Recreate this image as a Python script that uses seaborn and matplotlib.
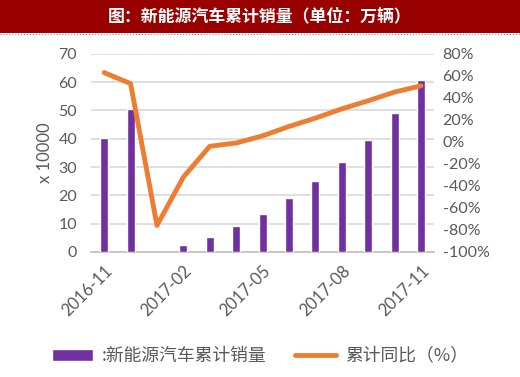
import numpy as np
import pandas as pd
import seaborn as sns
import matplotlib.pyplot as plt
from matplotlib.patches import Rectangle
from matplotlib.lines import Line2D

# data
months = ["2016-11", "2016-12", "2017-01", "2017-02", "2017-03", "2017-04", "2017-05",
          "2017-06", "2017-07", "2017-08", "2017-09", "2017-10", "2017-11"]
sales = [40.2, 50.6, np.nan, 2.4, 5.1, 9.1, 13.4, 19.0, 25.1, 31.8, 39.6, 49.2, 60.6]
growth = [63, 53, -76, -32, -4, -1, 5.5, 14, 21.6, 30, 37.4, 45.3, 51]

bar_label = ":新能源汽车累计销量"
line_label = "累计同比（%）"
title = "图：新能源汽车累计销量（单位：万辆）"

bar_color = "#7030A0"
line_color = "#ED7D31"
text_color = "#595959"

sns.set_theme(style="white")
plt.rcParams['font.family'] = ['Lato', 'Noto Sans CJK SC', 'DejaVu Sans']

df = pd.DataFrame({"month": months, "sales": sales, "growth": growth})

fig = plt.figure(figsize=(5.2, 3.77), dpi=100)
ax = fig.add_axes([0.175, 0.332, 0.66, 0.525])

# title bar
fig.patches.append(Rectangle((0, 0.912), 1, 0.088, transform=fig.transFigure,
                             facecolor="#990000", edgecolor="none", zorder=0))
fig.add_artist(Line2D([0, 1], [0.910, 0.910], transform=fig.transFigure,
                      color="#8888bb", lw=0.8, ls=":"))
fig.text(0.5, 0.956, title, color="white", fontsize=12.2, fontweight="bold",
         ha="center", va="center", family=['Noto Sans CJK SC', 'DejaVu Sans'])

# bars
sns.barplot(data=df, x="month", y="sales", color=bar_color, width=0.3,
            saturation=1, ax=ax, zorder=3)
ax.set_ylim(0, 70)
ax.set_yticks(range(0, 71, 10))
ax.yaxis.grid(True, color="#D9D9D9", lw=1.2, zorder=0)
ax.set_axisbelow(True)
ax.set_xlim(-0.5, 12.5)
ax.set_xlabel("")
ax.set_ylabel("x 10000", color=text_color, fontsize=12, labelpad=4)

ax.set_xticks([0, 3, 6, 9, 12])
ax.set_xticklabels([months[i] for i in [0, 3, 6, 9, 12]], rotation=45, ha="right",
                   rotation_mode="anchor")
ax.set_xticks([-0.5, 2.5, 5.5, 8.5, 11.5], minor=True)
ax.tick_params(axis="x", which="major", length=0, pad=8, labelsize=12, labelcolor=text_color)
ax.tick_params(axis="x", which="minor", length=5, color="#BFBFBF", width=1, direction="out")
ax.tick_params(axis="y", length=0, labelsize=11.5, labelcolor=text_color, pad=10)
for s in ["top", "right", "left"]:
    ax.spines[s].set_visible(False)
ax.spines["bottom"].set_color("#BFBFBF")
ax.spines["bottom"].set_linewidth(1.2)

# line on secondary axis
ax2 = ax.twinx()
sns.lineplot(x=np.arange(len(months)), y=growth, color=line_color, lw=3.5, ax=ax2,
             zorder=4)
ax2.set_ylim(-100, 80)
ax2.set_yticks(range(-100, 81, 20))
ax2.set_yticklabels([f"{v}%" for v in range(-100, 81, 20)])
ax2.tick_params(axis="y", length=0, labelsize=11.5, labelcolor=text_color, pad=6)
ax2.set_xlim(-0.5, 12.5)
for s in ax2.spines.values():
    s.set_visible(False)
ax2.grid(False)

# legend
handles = [Rectangle((0, 0), 1, 1, facecolor=bar_color),
           Line2D([0], [0], color=line_color, lw=3.5)]
fig.legend(handles, [bar_label, line_label], loc="center", bbox_to_anchor=(0.5, 0.055),
           ncol=2, frameon=False, handlelength=2.3, handleheight=0.6,
           handletextpad=0.5, columnspacing=1.6, labelcolor=text_color,
           prop={'family': ['Noto Sans CJK SC', 'DejaVu Sans'], 'size': 12.8})

fig.savefig("out.png", dpi=100)
